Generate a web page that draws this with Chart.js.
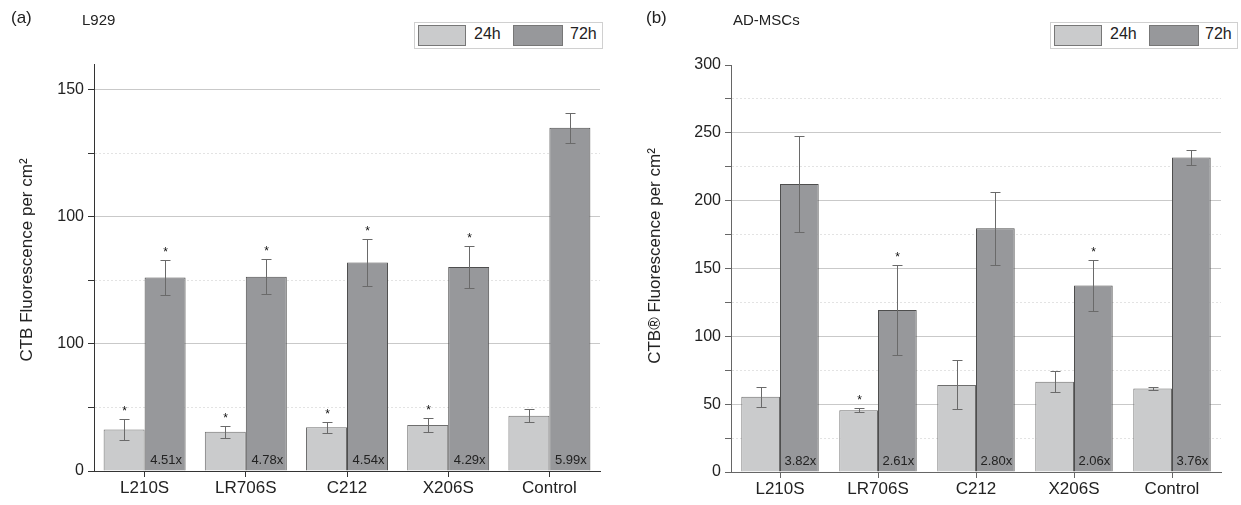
<!DOCTYPE html>
<html>
<head>
<meta charset="utf-8">
<script src="https://cdn.jsdelivr.net/npm/chart.js@4.4.0/dist/chart.umd.min.js"></script>
<style>
body { margin: 0; background: #fff; font-family: "Liberation Sans", Arial, sans-serif; color: #222; }
#wrap { position: relative; width: 1241px; height: 505px; overflow: hidden; }
.panel { position: absolute; top: 0; height: 505px; }
.tag { position: absolute; font-size: 17px; }
.sub { position: absolute; font-size: 15px; }
.legend { position: absolute; top: 22px; height: 25px; border: 1px solid #d0d0d0; background: #fff; }
.sw { position: absolute; top: 2px; height: 19px; border: 1px solid #777; }
.lt { position: absolute; top: 2px; font-size: 16px; }
.ytitle { position: absolute; width: 300px; height: 20px; line-height: 20px; text-align: center;
          font-size: 17px; transform: rotate(-90deg); white-space: nowrap; }
</style>
</head>
<body>
<div id="wrap">
  <div class="panel" style="left:0;width:620px"><canvas id="chartA" width="620" height="505"></canvas></div>
  <div class="panel" style="left:620px;width:621px"><canvas id="chartB" width="621" height="505"></canvas></div>

  <div class="tag" style="left:11px;top:8px">(a)</div>
  <div class="sub" style="left:82px;top:11px">L929</div>
  <div class="legend" style="left:414px;width:187px">
    <div class="sw" style="left:3px;width:46px;background:#cacbcc"></div>
    <div class="lt" style="left:59px">24h</div>
    <div class="sw" style="left:98px;width:48px;background:#97989b"></div>
    <div class="lt" style="left:155px">72h</div>
  </div>
  <div class="ytitle" style="left:-123px;top:250px">CTB Fluorescence per cm²</div>

  <div class="tag" style="left:646px;top:8px">(b)</div>
  <div class="sub" style="left:733px;top:11px">AD-MSCs</div>
  <div class="legend" style="left:1050px;width:186px">
    <div class="sw" style="left:3px;width:46px;background:#cacbcc"></div>
    <div class="lt" style="left:59px">24h</div>
    <div class="sw" style="left:98px;width:48px;background:#97989b"></div>
    <div class="lt" style="left:154px">72h</div>
  </div>
  <div class="ytitle" style="left:505px;top:246px">CTB® Fluorescence per cm²</div>
</div>
<script>
// categories and values
var categories = ["L210S", "LR706S", "C212", "X206S", "Control"];

// (a) L929 - left axis is linear, ticks every 50 units, labels as printed
var l929_24h     = [16.3, 15.4, 17.2, 18.1, 21.7];
var l929_24h_err = [4.1, 2.4, 2.2, 2.9, 2.6];
var l929_24h_sig = [true, true, true, true, false];
var l929_72h     = [76.1, 76.4, 82.0, 80.2, 134.9];
var l929_72h_err = [6.8, 7.0, 9.2, 8.1, 5.8];
var l929_72h_sig = [true, true, true, true, false];
var l929_fold    = ["4.51x", "4.78x", "4.54x", "4.29x", "5.99x"];
var l929_tickValues = [0, 50, 100, 150];
var l929_tickLabels = ["0", "100", "100", "150"];

// (b) AD-MSCs
var msc_24h     = [55.4, 45.6, 64.2, 66.5, 61.5];
var msc_24h_err = [7.5, 1.7, 18.0, 7.7, 1.0];
var msc_24h_sig = [false, true, false, false, false];
var msc_72h     = [212.3, 119.4, 179.7, 137.5, 231.9];
var msc_72h_err = [35.5, 33.0, 27.0, 18.9, 5.3];
var msc_72h_sig = [false, true, false, true, false];
var msc_fold    = ["3.82x", "2.61x", "2.80x", "2.06x", "3.76x"];

var FONT = "'Liberation Sans', Arial, sans-serif";

var errPlugin = {
    id: 'errbars',
    afterDatasetsDraw: function (chart) {
        var ctx = chart.ctx, y = chart.scales.y;
        ctx.save();
        chart.data.datasets.forEach(function (ds, i) {
            var meta = chart.getDatasetMeta(i);
            meta.data.forEach(function (bar, j) {
                var v = ds.data[j], e = ds.err[j];
                var x = Math.round(bar.x) + 0.5;
                var top = Math.round(y.getPixelForValue(v + e)) + 0.5;
                var bot = Math.round(y.getPixelForValue(v - e)) + 0.5;
                ctx.strokeStyle = '#6a6a6a';
                ctx.lineWidth = 1;
                ctx.beginPath();
                ctx.moveTo(x, top); ctx.lineTo(x, bot);
                ctx.moveTo(x - 5, top); ctx.lineTo(x + 5, top);
                ctx.moveTo(x - 5, bot); ctx.lineTo(x + 5, bot);
                ctx.stroke();
                if (ds.sig[j]) {
                    ctx.fillStyle = '#111';
                    ctx.font = "12px " + FONT;
                    ctx.textAlign = 'center';
                    ctx.textBaseline = 'middle';
                    ctx.fillText('*', x, top - 8);
                }
                if (ds.fold) {
                    ctx.fillStyle = '#222';
                    ctx.font = "13px " + FONT;
                    ctx.textAlign = 'center';
                    ctx.textBaseline = 'middle';
                    ctx.fillText(ds.fold[j], bar.x + 1, bar.base - 10);
                }
            });
        });
        ctx.restore();
    }
};

function makeChart(id, cfg) {
    var ds = [
        { label: "24h", data: cfg.d24, err: cfg.e24, sig: cfg.s24,
          backgroundColor: '#cacbcc', borderColor: '#6e6e6e', borderWidth: 1,
          categoryPercentage: cfg.cat, barPercentage: 1.0 },
        { label: "72h", data: cfg.d72, err: cfg.e72, sig: cfg.s72, fold: cfg.fold,
          backgroundColor: '#97989b', borderColor: '#4e4e4e', borderWidth: 1,
          categoryPercentage: cfg.cat, barPercentage: 1.0 }
    ];
    var ctx = document.getElementById(id).getContext("2d");
    return new Chart(ctx, {
        type: 'bar',
        data: { labels: categories, datasets: ds },
        plugins: [errPlugin],
        options: {
            responsive: false,
            animation: false,
            layout: { padding: { left: 0, right: cfg.padRight, top: cfg.padTop, bottom: 0 } },
            plugins: { legend: { display: false }, tooltip: { enabled: false } },
            scales: {
                x: {
                    grid: { drawOnChartArea: false, offset: false, tickLength: 6, tickColor: cfg.axisColor },
                    border: { color: cfg.axisColor },
                    ticks: { color: '#222', font: { family: FONT, size: 17 }, padding: 1 },
                    afterFit: function (s) { s.height = cfg.xHeight; }
                },
                y: {
                    min: 0, max: cfg.max,
                    ticks: {
                        stepSize: 25, includeBounds: false, color: '#222', padding: 4,
                        font: { family: FONT, size: 16 },
                        callback: function (v) {
                            if (v % 50 !== 0) return '';
                            return cfg.label(v);
                        }
                    },
                    grid: {
                        tickLength: 6, tickColor: cfg.axisColor,
                        color: function (c) {
                            var v = c.tick ? c.tick.value : 0;
                            if (v === 0 || v >= cfg.noGridAt) return 'rgba(0,0,0,0)';
                            return v % 50 === 0 ? '#c9c9c9' : '#e3e3e3';
                        }
                    },
                    border: {
                        color: cfg.axisColor,
                        dash: function (c) {
                            var v = c.tick ? c.tick.value : 0;
                            return v % 50 === 0 ? [] : [2, 2];
                        }
                    },
                    afterFit: function (s) { s.width = cfg.yWidth; }
                }
            }
        }
    });
}

makeChart("chartA", {
    d24: l929_24h, e24: l929_24h_err, s24: l929_24h_sig,
    d72: l929_72h, e72: l929_72h_err, s72: l929_72h_sig, fold: l929_fold,
    max: 160, noGridAt: 155, cat: 0.81,
    label: function (v) { return l929_tickLabels[l929_tickValues.indexOf(v)]; },
    yWidth: 94, xHeight: 34, padTop: 64, padRight: 20, axisColor: '#333'
});

makeChart("chartB", {
    d24: msc_24h, e24: msc_24h_err, s24: msc_24h_sig,
    d72: msc_72h, e72: msc_72h_err, s72: msc_72h_sig, fold: msc_fold,
    max: 300, noGridAt: 300, cat: 0.79,
    label: function (v) { return String(v); },
    yWidth: 111, xHeight: 33, padTop: 65, padRight: 20, axisColor: '#666'
});
</script>
</body>
</html>
